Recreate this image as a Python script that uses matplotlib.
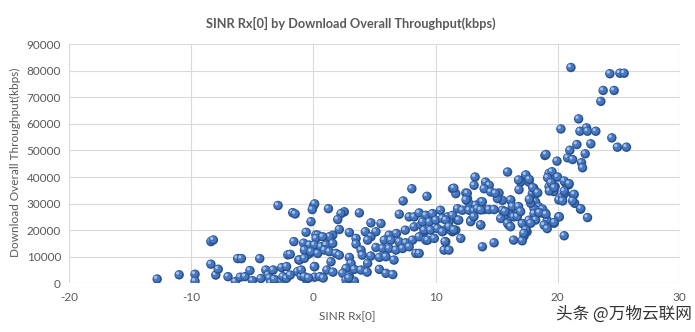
import matplotlib
matplotlib.use("Agg")
import matplotlib.pyplot as plt
from matplotlib.transforms import offset_copy

plt.rcParams['font.family'] = ['Lato', 'DejaVu Sans']

# SINR Rx[0] (dB) and download throughput (kbps)
sinr = [
    -12.8, -11.0, -9.7, -9.7, -8.4, -8.2, -8.4, -8.0, -7.8, -7.0, -6.4, -6.2, -5.9, -6.0, -5.6,
    -5.2, -5.0, -4.4, -4.3, -3.9, -3.7, -3.6, -3.5, -3.3, -3.2, -2.9, -2.6, -2.6, -2.5, -2.2,
    -2.1, -2.2, -1.9, -1.7, -1.5, -1.3, -1.0, -0.6, -1.9, -1.2, -0.3, -0.5, 0.1, 0.1, -0.2,
    0.0, 0.1, -0.6, 0.2, -1.6, -0.8, -0.3, 0.3,
    8.06, 7.35, 9.3, -0.1, 1.23, 2.53, 2.26, 1.99, 3.76, 7.03, 7.84, 8.25, 8.66, 9.2, 4.71,
    5.53, 2.12, 2.94, 1.58, 1.31, 0.35, 0.22, 0.76, 4.25, 5.12, 4.71, 4.44, 3.49, 3.49, 3.9,
    6.2, 6.8, 7.52, 8.25, 8.8, 9.07, 5.8, 6.35, 7.03, 7.57, 8.12, 8.66, 9.2, 5.12, 5.67,
    6.2, 6.76, 7.3, 7.84, -0.33, 0.08, 0.63, 1.04, 1.58, -0.74, -0.19, 0.35, 0.9, 1.3, 1.85,
    2.12, 8.39, 4.0, 4.7, 5.4, 5.94, 6.6, 2.94, 3.08, 2.67, 3.35, 2.4, 2.94, 2.67, 3.9,
    4.44, 5.4, 5.94, -1.14, -0.74, -1.0, -0.74, 0.08, 0.54, 1.1, 1.44,
    6.5, 4.4, 3.35, 2.9, 1.6, 0.8, -0.4,
    18.96, 15.9, 17.38, 17.65, 16.97, 16.84, 13.24, 13.16, 14.1, 14.4, 13.98, 14.52, 15.2, 15.48, 15.07,
    11.39, 11.66, 12.48, 12.62, 12.75, 13.7, 13.3, 17.93, 18.2, 18.47, 18.07, 16.16, 16.3, 16.0, 16.4,
    16.7, 15.48, 15.6, 15.34, 18.6, 18.88, 19.15, 11.8, 12.2, 12.75, 13.16, 13.43, 13.98, 14.38, 14.8,
    12.9, 13.7, 11.8, 9.75, 10.4, 10.98, 11.39, 8.94, 9.5, 10.03, 10.57, 11.1, 11.66, 11.39, 9.07,
    9.6, 10.16, 10.7, 11.25, 9.35, 9.9, 10.84, 12.07, 10.7, 11.1, 8.66, 16.0, 17.1, 17.65, 18.07,
    17.5, 17.25, 17.1, 16.4, 13.84, 14.8, 18.9, 19.15,
    11.5, 21.87, 21.3, 21.4, 10.78,
    12.6, 12.5, 14.9, 15.7, 16.15, 16.3, 16.8, 15.9, 16.15, 16.7, 16.97, 16.8, 17.4, 18.05, 18.3,
    17.8, 18.46, 18.7, 19.0, 18.2, 17.8, 17.4, 17.24, 19.3, 19.55, 19.3, 19.8, 19.7, 20.1, 20.4,
    20.65, 20.9, 20.6, 19.7, 20.1, 10.84, 11.1, 10.56, 11.5, 11.9, 12.88, 13.7, 13.15, 13.7, 13.83,
    21.09, 24.28, 25.1, 25.45, 23.73, 24.63, 23.54, 21.72, 20.27, 21.83, 22.37, 22.45, 23.13, 24.44, 24.9,
    25.64, 21.58, 21.0, 20.82, 21.23, 22.26, 22.72, 19.05, 19.95, 21.96, 22.04, 19.54, 19.18, 19.46, 20.0,
    20.54, 20.95, 17.68, 17.96, 18.37, 17.68, 19.32, 19.73, 20.54, 21.36, 20.41, 21.23, 21.9, 22.45, 18.77,
    18.5, 19.05, 20.14, 19.73, 20.54,
]
throughput = [
    1600, 3200, 3400, 800, 15700, 16300, 7200, 3100, 5300, 2500, 600, 9300, 9300, 2300, 2500,
    4800, 1000, 9300, 1800, 5000, 3100, 2000, 200, 5000, 1500, 29300, 5900, 800, 2500, 1900,
    10700, 6300, 3100, 26600, 26100, 4400, 2700, 1500, 10900, 8800, 11300, 10700, 6300, 2300, 23200,
    29100, 29900, 19200, 18200, 15700, 15100, 13800, 13200,
    35600, 31000, 32750, 27750, 28100, 26900, 26250, 24000, 26500, 26000, 25000, 25000, 26500, 25600, 22750,
    22500, 20250, 19100, 18100, 17500, 18100, 16900, 17500, 19400, 19400, 17500, 16250, 16900, 14750, 12500,
    18100, 18750, 20000, 21250, 21900, 19400, 16250, 16250, 15600, 15250, 16250, 17500, 16250, 13500, 13100,
    13100, 12500, 13100, 13750, 14400, 14400, 13750, 14400, 15000, 12500, 11900, 11250, 12500, 11900, 11250,
    10600, 11250, 10600, 10250, 9750, 10000, 8750, 9750, 7500, 5600, 5250, 3750, 2750, 1250, 5000,
    7500, 5250, 3750, 8750, 9400, 5000, 2500, 6250, 2500, 5000, 8100,
    3300, 4200, 800, 2000, 4200, 2000, 2000,
    48100, 41900, 40600, 38100, 38100, 35250, 40000, 36900, 38100, 36900, 35600, 34400, 34000, 31250, 31900,
    35600, 33750, 34000, 31900, 30000, 30600, 29400, 33750, 30600, 28750, 28100, 31250, 28750, 26250, 25000,
    27500, 27500, 25000, 24400, 27500, 26250, 23750, 28100, 27500, 27500, 27250, 28100, 27750, 27750, 27750,
    23750, 21900, 23750, 26250, 27500, 25000, 25600, 23100, 23100, 23750, 24400, 23100, 20000, 19400, 20000,
    20000, 20600, 20000, 20000, 16250, 16900, 15600, 16900, 12500, 12500, 11250, 21900, 22500, 23750, 26250,
    19400, 17750, 16000, 16250, 13750, 15250, 21900, 20600,
    35800, 27900, 33300, 30100, 15700,
    33900, 31400, 33900, 27000, 31400, 28900, 28900, 22600, 21300, 25100, 27000, 38900, 40800, 35800, 33900,
    30100, 26400, 27600, 26400, 23800, 22600, 20100, 18800, 41400, 38900, 36400, 36400, 34500, 31400, 32600,
    37700, 37000, 33900, 22600, 25100, 23800, 21300, 19400, 20100, 23800, 23200, 22000, 25100, 27600, 30700,
    81250, 78900, 79100, 79100, 72600, 72600, 68500, 61900, 58100, 57250, 58500, 57250, 57250, 54750, 51250,
    51250, 52250, 50100, 47250, 46600, 48750, 52500, 48500, 46000, 45400, 43500, 42000, 39750, 37900, 40000,
    38500, 37500, 39100, 36000, 34100, 31600, 34750, 36000, 34750, 33500, 31000, 31000, 28100, 24750, 27900,
    26600, 26000, 25000, 22900, 17900,
]

x_ticks = [-20, -10, 0, 10, 20, 30]
y_ticks = [0, 10000, 20000, 30000, 40000, 50000, 60000, 70000, 80000, 90000]

grey = '#595959'

fig = plt.figure(figsize=(6.95, 3.32), dpi=100)
ax = fig.add_axes([0.0997, 0.1467, 0.8783, 0.72])

# each point as a small shaded "ball": dark rim, body, highlight
body_tr = offset_copy(ax.transData, fig=fig, x=-0.5, y=0.5, units='dots')
hi_tr = offset_copy(ax.transData, fig=fig, x=-1.6, y=1.6, units='dots')
z = 3
for xv, yv in zip(sinr, throughput):
    ax.scatter([xv], [yv], s=46, color='#28508c', edgecolors='none', zorder=z)
    ax.scatter([xv], [yv], s=28, color='#4677c0', edgecolors='none', zorder=z + 0.1, transform=body_tr)
    ax.scatter([xv], [yv], s=5, color='#a6c3ec', edgecolors='none', zorder=z + 0.2, transform=hi_tr)
    z += 0.3

ax.set_xlim(-20, 30)
ax.set_ylim(0, 90000)
ax.set_xticks(x_ticks)
ax.set_yticks(y_ticks)
ax.set_xticklabels([str(t) for t in x_ticks])
ax.set_yticklabels([str(t) for t in y_ticks])
ax.tick_params(length=0, labelsize=8.5, colors=grey, pad=6)
ax.grid(True, color='#d9d9d9', linewidth=0.8)
ax.set_axisbelow(True)
for s in ax.spines.values():
    s.set_visible(False)

fig.text(0.505, 0.93, 'SINR Rx[0] by Download Overall Throughput(kbps)', ha='center', va='center',
         fontsize=9.2, fontweight='bold', color=grey)
fig.text(0.5, 0.045, 'SINR Rx[0]', ha='center', va='center', fontsize=8.5, color=grey)
fig.text(0.022, 0.51, 'Download Overall Throughput(kbps)', ha='center', va='center', rotation=90,
         fontsize=8.5, color=grey)

fig.text(0.995, 0.055, '头条 @万物云联网', ha='right', va='center', fontsize=12, color='#333333',
         family=['Noto Sans CJK SC', 'DejaVu Sans'])

fig.savefig('out.png', dpi=100)
